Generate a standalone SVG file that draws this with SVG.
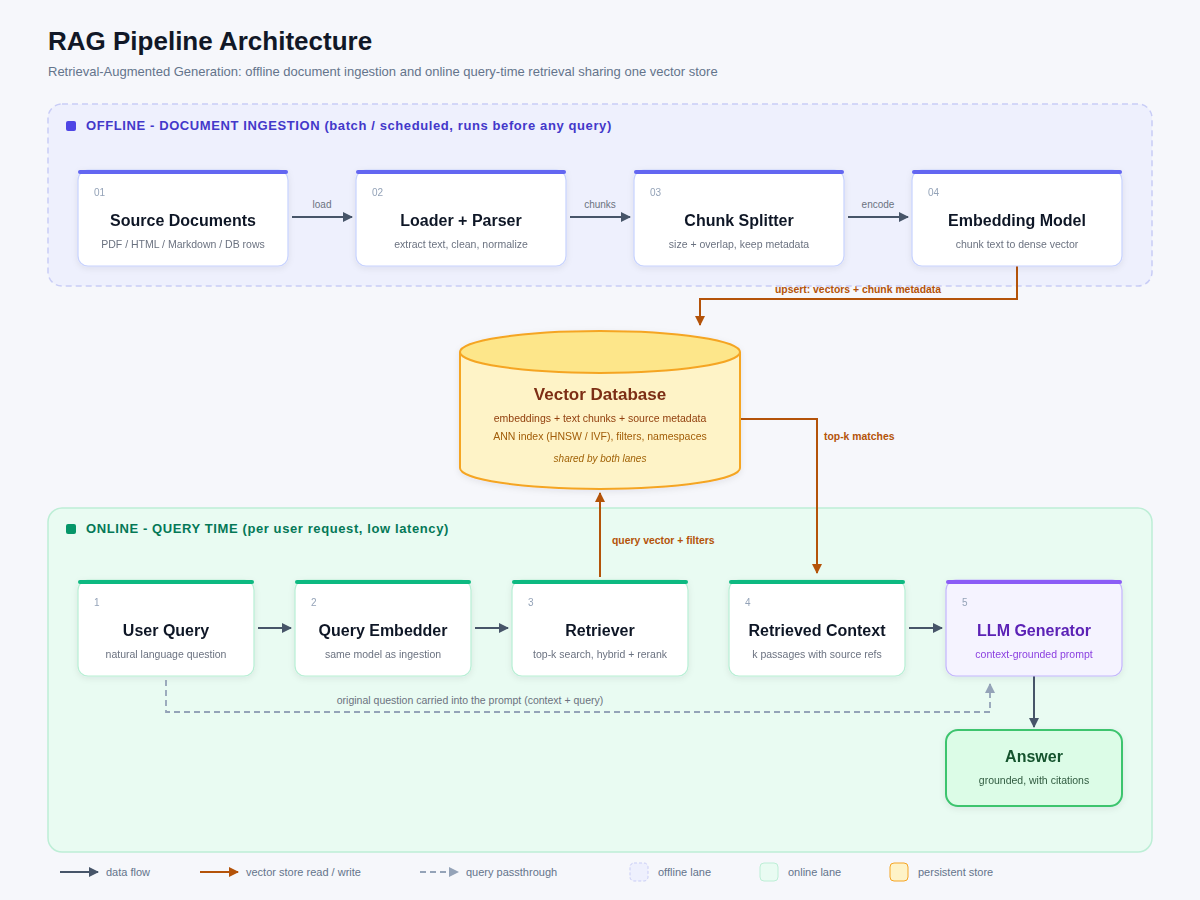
<svg xmlns="http://www.w3.org/2000/svg" width="1200" height="900" viewBox="0 0 1200 900">
<style>
text{font-family:"Liberation Sans",Arial,Helvetica,sans-serif}
.title{font-size:26px;font-weight:bold;fill:#111827}
.subtitle{font-size:13px;fill:#64748b}
.lane-off{fill:#eef0fd;stroke:#c9cdf6;stroke-width:1.5;stroke-dasharray:6 4}
.lane-on{fill:#e9fbf2;stroke:#bdeed6;stroke-width:1.5}
.lanelbl-off{font-size:13px;font-weight:bold;fill:#4338ca;letter-spacing:0.6px}
.lanelbl-on{font-size:13px;font-weight:bold;fill:#047857;letter-spacing:0.6px}
.node{fill:#ffffff;stroke:#c7d2fe;stroke-width:1.2}
.node-on{fill:#ffffff;stroke:#b7efd4;stroke-width:1.2}
.node-llm{fill:#f5f3ff;stroke:#c4b5fd;stroke-width:1.2}
.bar-off{fill:#6366f1}
.bar-on{fill:#10b981}
.bar-llm{fill:#8b5cf6}
.num{font-size:10px;fill:#94a3b8}
.ntitle{font-size:16px;font-weight:bold;fill:#111827;text-anchor:middle}
.nsub{font-size:10.5px;fill:#6b7280;text-anchor:middle}
.elbl{font-size:10px;fill:#6b7280;text-anchor:middle}
.blbl{font-size:10.4px;font-weight:bold;fill:#b45309}
.flow{stroke:#475569;stroke-width:2;fill:none}
.store{stroke:#b45309;stroke-width:2;fill:none}
.pass{stroke:#94a3b8;stroke-width:1.8;fill:none;stroke-dasharray:6 4}
.leg{font-size:11px;fill:#64748b}
</style>
<defs>
<marker id="ah" viewBox="0 0 10 10" refX="9" refY="5" markerWidth="10" markerHeight="10" markerUnits="userSpaceOnUse" orient="auto"><path d="M0,0 L10,5 L0,10 z" fill="#475569"/></marker>
<marker id="ab" viewBox="0 0 10 10" refX="9" refY="5" markerWidth="10" markerHeight="10" markerUnits="userSpaceOnUse" orient="auto"><path d="M0,0 L10,5 L0,10 z" fill="#b45309"/></marker>
<marker id="ag" viewBox="0 0 10 10" refX="9" refY="5" markerWidth="10" markerHeight="10" markerUnits="userSpaceOnUse" orient="auto"><path d="M0,0 L10,5 L0,10 z" fill="#94a3b8"/></marker>
<filter id="sh" x="-10%" y="-10%" width="120%" height="130%"><feDropShadow dx="0" dy="2" stdDeviation="3" flood-color="#1e293b" flood-opacity="0.08"/></filter>
</defs>
<rect x="0" y="0" width="1200" height="900" fill="#f6f7fb"/>
<text class="title" x="48" y="50">RAG Pipeline Architecture</text>
<text class="subtitle" x="48" y="76">Retrieval-Augmented Generation: offline document ingestion and online query-time retrieval sharing one vector store</text>

<g id="lane-offline">
<rect class="lane-off" x="48" y="104" width="1104" height="182" rx="14"/>
<rect x="66" y="121" width="10" height="10" rx="2" fill="#4f46e5"/>
<text class="lanelbl-off" x="86" y="130">OFFLINE - DOCUMENT INGESTION (batch / scheduled, runs before any query)</text>
</g>
<g id="lane-online">
<rect class="lane-on" x="48" y="508" width="1104" height="344" rx="14"/>
<rect x="66" y="524" width="10" height="10" rx="2" fill="#059669"/>
<text class="lanelbl-on" x="86" y="533">ONLINE - QUERY TIME (per user request, low latency)</text>
</g>

<g id="connectors">
<line class="flow" x1="292" y1="217" x2="352" y2="217" marker-end="url(#ah)"/>
<text class="elbl" x="322" y="208">load</text>
<line class="flow" x1="570" y1="217" x2="630" y2="217" marker-end="url(#ah)"/>
<text class="elbl" x="600" y="208">chunks</text>
<line class="flow" x1="848" y1="217" x2="908" y2="217" marker-end="url(#ah)"/>
<text class="elbl" x="878" y="208">encode</text>
<path class="store" d="M1017,266 V299 H700 V325" marker-end="url(#ab)"/>
<text class="blbl" x="858" y="293" text-anchor="middle">upsert: vectors + chunk metadata</text>
<path class="store" d="M740,419 H817 V573" marker-end="url(#ab)"/>
<text class="blbl" x="824" y="440">top-k matches</text>
<path class="store" d="M600,577 V493" marker-end="url(#ab)"/>
<text class="blbl" x="612" y="544">query vector + filters</text>
<line class="flow" x1="258" y1="628" x2="291" y2="628" marker-end="url(#ah)"/>
<line class="flow" x1="475" y1="628" x2="508" y2="628" marker-end="url(#ah)"/>
<line class="flow" x1="909" y1="628" x2="942" y2="628" marker-end="url(#ah)"/>
<line class="flow" x1="1034" y1="676" x2="1034" y2="727" marker-end="url(#ah)"/>
<path class="pass" d="M166,680 V712 H990 V684" marker-end="url(#ag)"/>
<text class="elbl" x="470" y="704" style="font-size:10.5px">original question carried into the prompt (context + query)</text>
</g>

<g id="n-source" filter="url(#sh)">
<rect class="node" x="78" y="170" width="210" height="96" rx="10"/>
<rect class="bar-off" x="78" y="170" width="210" height="4" rx="2"/>
<text class="num" x="94" y="196">01</text>
<text class="ntitle" x="183" y="226">Source Documents</text>
<text class="nsub" x="183" y="248">PDF / HTML / Markdown / DB rows</text>
</g>
<g id="n-loader" filter="url(#sh)">
<rect class="node" x="356" y="170" width="210" height="96" rx="10"/>
<rect class="bar-off" x="356" y="170" width="210" height="4" rx="2"/>
<text class="num" x="372" y="196">02</text>
<text class="ntitle" x="461" y="226">Loader + Parser</text>
<text class="nsub" x="461" y="248">extract text, clean, normalize</text>
</g>
<g id="n-splitter" filter="url(#sh)">
<rect class="node" x="634" y="170" width="210" height="96" rx="10"/>
<rect class="bar-off" x="634" y="170" width="210" height="4" rx="2"/>
<text class="num" x="650" y="196">03</text>
<text class="ntitle" x="739" y="226">Chunk Splitter</text>
<text class="nsub" x="739" y="248">size + overlap, keep metadata</text>
</g>
<g id="n-embed" filter="url(#sh)">
<rect class="node" x="912" y="170" width="210" height="96" rx="10"/>
<rect class="bar-off" x="912" y="170" width="210" height="4" rx="2"/>
<text class="num" x="928" y="196">04</text>
<text class="ntitle" x="1017" y="226">Embedding Model</text>
<text class="nsub" x="1017" y="248">chunk text to dense vector</text>
</g>

<g id="n-vectordb" filter="url(#sh)">
<path d="M460,352 V468 A140,21 0 0 0 740,468 V352" fill="#fef3c7" stroke="#f5a524" stroke-width="2"/>
<ellipse cx="600" cy="352" rx="140" ry="21" fill="#fde68a" stroke="#f5a524" stroke-width="2"/>
<text x="600" y="400" text-anchor="middle" font-size="17" font-weight="bold" fill="#7c2d12">Vector Database</text>
<text x="600" y="422" text-anchor="middle" font-size="10.5" fill="#92400e">embeddings + text chunks + source metadata</text>
<text x="600" y="440" text-anchor="middle" font-size="10.5" fill="#a15c07">ANN index (HNSW / IVF), filters, namespaces</text>
<text x="600" y="462" text-anchor="middle" font-size="10" font-style="italic" fill="#a16207">shared by both lanes</text>
</g>

<g id="n-userquery" filter="url(#sh)">
<rect class="node-on" x="78" y="580" width="176" height="96" rx="10"/>
<rect class="bar-on" x="78" y="580" width="176" height="4" rx="2"/>
<text class="num" x="94" y="606">1</text>
<text class="ntitle" x="166" y="636">User Query</text>
<text class="nsub" x="166" y="658">natural language question</text>
</g>
<g id="n-qembed" filter="url(#sh)">
<rect class="node-on" x="295" y="580" width="176" height="96" rx="10"/>
<rect class="bar-on" x="295" y="580" width="176" height="4" rx="2"/>
<text class="num" x="311" y="606">2</text>
<text class="ntitle" x="383" y="636">Query Embedder</text>
<text class="nsub" x="383" y="658">same model as ingestion</text>
</g>
<g id="n-retriever" filter="url(#sh)">
<rect class="node-on" x="512" y="580" width="176" height="96" rx="10"/>
<rect class="bar-on" x="512" y="580" width="176" height="4" rx="2"/>
<text class="num" x="528" y="606">3</text>
<text class="ntitle" x="600" y="636">Retriever</text>
<text class="nsub" x="600" y="658">top-k search, hybrid + rerank</text>
</g>
<g id="n-context" filter="url(#sh)">
<rect class="node-on" x="729" y="580" width="176" height="96" rx="10"/>
<rect class="bar-on" x="729" y="580" width="176" height="4" rx="2"/>
<text class="num" x="745" y="606">4</text>
<text class="ntitle" x="817" y="636">Retrieved Context</text>
<text class="nsub" x="817" y="658">k passages with source refs</text>
</g>
<g id="n-llm" filter="url(#sh)">
<rect class="node-llm" x="946" y="580" width="176" height="96" rx="10"/>
<rect class="bar-llm" x="946" y="580" width="176" height="4" rx="2"/>
<text class="num" x="962" y="606">5</text>
<text class="ntitle" x="1034" y="636" style="fill:#5b21b6">LLM Generator</text>
<text class="nsub" x="1034" y="658" style="fill:#8b3fe0">context-grounded prompt</text>
</g>
<g id="n-answer" filter="url(#sh)">
<rect x="946" y="730" width="176" height="76" rx="12" fill="#dcfce7" stroke="#3cc46e" stroke-width="2"/>
<text class="ntitle" x="1034" y="762" style="fill:#14532d">Answer</text>
<text class="nsub" x="1034" y="784" style="fill:#2f5a3f">grounded, with citations</text>
</g>

<g id="legend">
<line class="flow" x1="60" y1="872" x2="98" y2="872" marker-end="url(#ah)"/>
<text class="leg" x="106" y="876">data flow</text>
<line class="store" x1="200" y1="872" x2="238" y2="872" marker-end="url(#ab)"/>
<text class="leg" x="246" y="876">vector store read / write</text>
<line class="pass" x1="420" y1="872" x2="458" y2="872" marker-end="url(#ag)"/>
<text class="leg" x="466" y="876">query passthrough</text>
<rect x="630" y="863" width="18" height="18" rx="4" fill="#eef0fd" stroke="#c9cdf6" stroke-dasharray="3 2"/>
<text class="leg" x="658" y="876">offline lane</text>
<rect x="760" y="863" width="18" height="18" rx="4" fill="#e9fbf2" stroke="#bdeed6"/>
<text class="leg" x="788" y="876">online lane</text>
<rect x="890" y="863" width="18" height="18" rx="4" fill="#fef3c7" stroke="#f5a524"/>
<text class="leg" x="918" y="876">persistent store</text>
</g>
</svg>
